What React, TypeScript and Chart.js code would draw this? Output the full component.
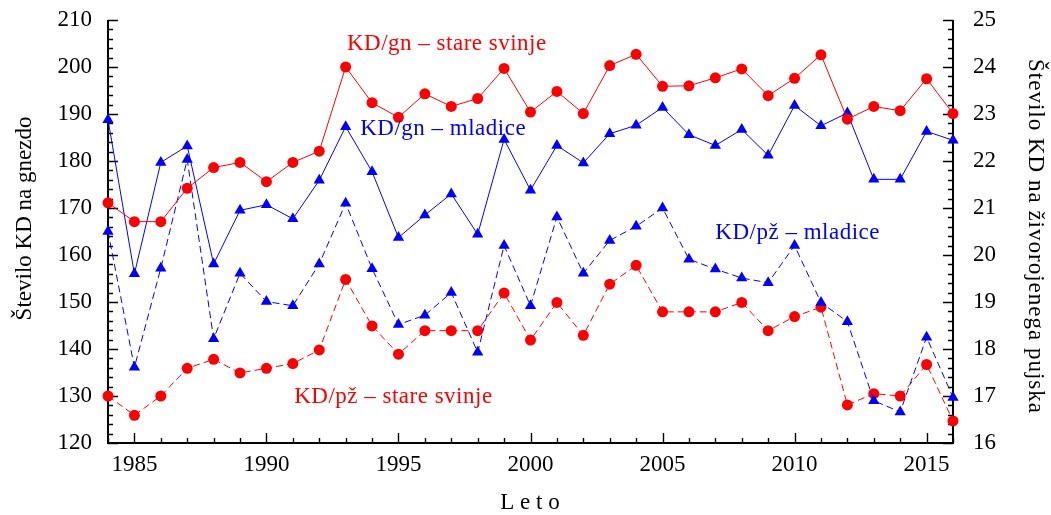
import { useEffect, useRef } from "react";
import { Chart, registerables } from "chart.js";

Chart.register(...registerables);

const years = [
  1984, 1985, 1986, 1987, 1988, 1989, 1990, 1991, 1992, 1993, 1994, 1995,
  1996, 1997, 1998, 1999, 2000, 2001, 2002, 2003, 2004, 2005, 2006, 2007,
  2008, 2009, 2010, 2011, 2012, 2013, 2014, 2015, 2016,
];

// KD/gn – stare svinje (left axis)
const gnStare = [
  171.1, 167.1, 167.1, 174.2, 178.6, 179.7, 175.6, 179.7, 182.1, 200.0, 192.4, 189.3,
  194.3, 191.6, 193.3, 199.7, 190.4, 194.8, 190.1, 200.3, 202.7, 195.9, 196.0, 197.7,
  199.6, 193.9, 197.6, 202.6, 188.9, 191.6, 190.7, 197.5, 190.1,
];

// KD/gn – mladice (left axis)
const gnMladice = [
  188.8, 156.0, 179.7, 183.2, 158.1, 169.5, 170.7, 167.7, 175.9, 187.3, 177.7, 163.7,
  168.5, 173.0, 164.4, 184.6, 173.8, 183.3, 179.6, 185.8, 187.6, 191.4, 185.6, 183.3,
  186.7, 181.2, 191.8, 187.5, 190.2, 176.1, 176.1, 186.3, 184.4,
];

// KD/pž – mladice (right axis)
const pzMladice = [
  20.5, 17.61, 19.72, 22.03, 18.22, 19.61, 19.01, 18.92, 19.81, 21.1, 19.71, 18.52,
  18.72, 19.2, 17.93, 20.2, 18.92, 20.81, 19.61, 20.31, 20.61, 21.0, 19.91, 19.7,
  19.51, 19.41, 20.2, 18.99, 18.58, 16.9, 16.66, 18.25, 16.97,
];

// KD/pž – stare svinje (right axis)
const pzStare = [
  17.0, 16.59, 17.0, 17.59, 17.78, 17.49, 17.59, 17.69, 17.98, 19.48, 18.49, 17.89,
  18.39, 18.39, 18.39, 19.19, 18.19, 18.99, 18.29, 19.38, 19.78, 18.79, 18.79, 18.79,
  18.99, 18.39, 18.69, 18.89, 16.81, 17.05, 17.0, 17.67, 16.47,
];

const xTickLabels = [1985, 1990, 1995, 2000, 2005, 2010, 2015];
const leftTickLabels = [120, 130, 140, 150, 160, 170, 180, 190, 200, 210];
const rightTickLabels = [16, 17, 18, 19, 20, 21, 22, 23, 24, 25];

const leftTitle = "Število KD na gnezdo";
const rightTitle = "Število KD na živorojenega pujska";
const xTitle = "L e t o";

const seriesNames = [
  "KD/gn – stare svinje",
  "KD/gn – mladice",
  "KD/pž – mladice",
  "KD/pž – stare svinje",
];

// annotation anchors (year, left-axis value)
const annotations = [
  { text: seriesNames[0], x: 1993.05, y: 204.9, color: "#ff0000" },
  { text: seriesNames[1], x: 1993.55, y: 186.75, color: "#0000ff" },
  { text: seriesNames[2], x: 2007.0, y: 164.7, color: "#0000ff" },
  { text: seriesNames[3], x: 1991.05, y: 129.9, color: "#ff0000" },
];

const FONT = "'Liberation Serif', 'Times New Roman', serif";
const RED = "#ff0000";
const BLUE = "#0000ff";

const pts = (arr: number[]) => years.map((x, i) => ({ x, y: arr[i] }));

const framePlugin = {
  id: "frame",
  beforeDatasetsDraw(chart: any) {
    const { ctx, chartArea } = chart;
    const { left, right, top, bottom } = chartArea;
    const x = chart.scales.x;
    const y = chart.scales.y;
    const y1 = chart.scales.y1;
    ctx.save();
    ctx.strokeStyle = "#000";
    ctx.lineWidth = 1.4;
    ctx.beginPath();
    for (let v = 120; v <= 210; v += 2) {
      const py = Math.round(y.getPixelForValue(v)) + 0.5;
      const len = v % 10 === 0 ? 10 : 5;
      ctx.moveTo(left, py);
      ctx.lineTo(left + len, py);
    }
    for (let i = 0; i <= 45; i++) {
      const py = Math.round(y1.getPixelForValue(16 + i * 0.2)) + 0.5;
      const len = i % 5 === 0 ? 10 : 5;
      ctx.moveTo(right, py);
      ctx.lineTo(right - len, py);
    }
    for (let yr = 1984; yr <= 2016; yr++) {
      const px = Math.round(x.getPixelForValue(yr)) + 0.5;
      const len = yr % 5 === 0 ? 10 : 5;
      ctx.moveTo(px, bottom);
      ctx.lineTo(px, bottom - len);
    }
    ctx.stroke();
    ctx.lineWidth = 2;
    ctx.beginPath();
    ctx.moveTo(left, top);
    ctx.lineTo(left, bottom);
    ctx.lineTo(right, bottom);
    ctx.lineTo(right, top);
    ctx.stroke();
    ctx.restore();
  },
  afterDraw(chart: any) {
    const { ctx } = chart;
    const x = chart.scales.x;
    const y = chart.scales.y;
    ctx.save();
    ctx.fillStyle = "#000";
    ctx.font = `23px ${FONT}`;
    ctx.textAlign = "center";
    ctx.textBaseline = "middle";
    // left title
    ctx.save();
    ctx.translate(24.5, 218.5);
    ctx.rotate(-Math.PI / 2);
    ctx.fillText(leftTitle, 0, 0);
    ctx.restore();
    // right title
    ctx.save();
    ctx.translate(1035.5, 236.5);
    ctx.rotate(Math.PI / 2);
    (ctx as any).letterSpacing = "1px";
    ctx.fillText(rightTitle, 0, 0);
    ctx.restore();
    // x title
    ctx.fillText(xTitle, 530, 503);
    // annotations
    ctx.textAlign = "left";
    (ctx as any).letterSpacing = "0.5px";
    for (const a of annotations) {
      ctx.fillStyle = a.color;
      ctx.fillText(a.text, x.getPixelForValue(a.x), y.getPixelForValue(a.y));
    }
    ctx.restore();
  },
};

const noPad = (s: any) => {
  s.paddingTop = 0;
  s.paddingBottom = 0;
  s.paddingLeft = 0;
  s.paddingRight = 0;
};

export default function App() {
  const ref = useRef<HTMLCanvasElement | null>(null);

  useEffect(() => {
    document.body.style.margin = "0";
    if (!ref.current) return;
    const tickFont = { family: FONT, size: 23 };
    const chart = new Chart(ref.current, {
      type: "line",
      data: {
        datasets: [
          {
            label: seriesNames[0],
            data: pts(gnStare),
            yAxisID: "y",
            borderColor: RED,
            backgroundColor: RED,
            borderWidth: 1,
            pointStyle: "circle",
            pointRadius: 5.5,
            pointBorderWidth: 0,
            clip: false,
          },
          {
            label: seriesNames[1],
            data: pts(gnMladice),
            yAxisID: "y",
            borderColor: BLUE,
            backgroundColor: BLUE,
            borderWidth: 1,
            pointStyle: "triangle",
            pointRadius: 6.5,
            pointBorderWidth: 0,
            clip: false,
          },
          {
            label: seriesNames[2],
            data: pts(pzMladice),
            yAxisID: "y1",
            borderColor: BLUE,
            backgroundColor: BLUE,
            borderWidth: 1,
            borderDash: [7, 4],
            pointStyle: "triangle",
            pointRadius: 6.5,
            pointBorderWidth: 0,
            clip: false,
          },
          {
            label: seriesNames[3],
            data: pts(pzStare),
            yAxisID: "y1",
            borderColor: RED,
            backgroundColor: RED,
            borderWidth: 1,
            borderDash: [7, 4],
            pointStyle: "circle",
            pointRadius: 5.5,
            pointBorderWidth: 0,
            clip: false,
          },
        ] as any,
      },
      options: {
        responsive: false,
        animation: false,
        devicePixelRatio: 1,
        layout: { padding: { top: 20, left: 0, right: 0, bottom: 0 } },
        plugins: {
          legend: { display: false },
          tooltip: { enabled: false },
          title: { display: false },
        },
        elements: { line: { tension: 0 } },
        scales: {
          x: {
            type: "linear",
            min: 1984,
            max: 2016,
            grid: { display: false, drawTicks: false },
            border: { display: false },
            ticks: {
              font: tickFont,
              color: "#000",
              padding: 8,
              maxRotation: 0,
              autoSkip: false,
              callback: (v: any) => String(v),
            },
            afterBuildTicks: (s: any) => {
              s.ticks = xTickLabels.map((v) => ({ value: v }));
            },
            afterFit: (s: any) => {
              s.height = 72;
              noPad(s);
            },
          },
          y: {
            type: "linear",
            position: "left",
            min: 120,
            max: 210,
            grid: { display: false, drawTicks: false },
            border: { display: false },
            ticks: {
              font: tickFont,
              color: "#000",
              padding: 16,
              callback: (v: any) => String(v),
            },
            afterBuildTicks: (s: any) => {
              s.ticks = leftTickLabels.map((v) => ({ value: v }));
            },
            afterFit: (s: any) => {
              s.width = 108;
              noPad(s);
            },
          },
          y1: {
            type: "linear",
            position: "right",
            min: 16,
            max: 25,
            grid: { display: false, drawTicks: false },
            border: { display: false },
            ticks: {
              font: tickFont,
              color: "#000",
              padding: 20,
              callback: (v: any) => String(v),
            },
            afterBuildTicks: (s: any) => {
              s.ticks = rightTickLabels.map((v) => ({ value: v }));
            },
            afterFit: (s: any) => {
              s.width = 98;
              noPad(s);
            },
          },
        },
      } as any,
      plugins: [framePlugin],
    });
    return () => chart.destroy();
  }, []);

  return (
    <div style={{ width: 1051, height: 515, background: "#fff" }}>
      <canvas ref={ref} width={1051} height={515} style={{ display: "block" }} />
    </div>
  );
}
